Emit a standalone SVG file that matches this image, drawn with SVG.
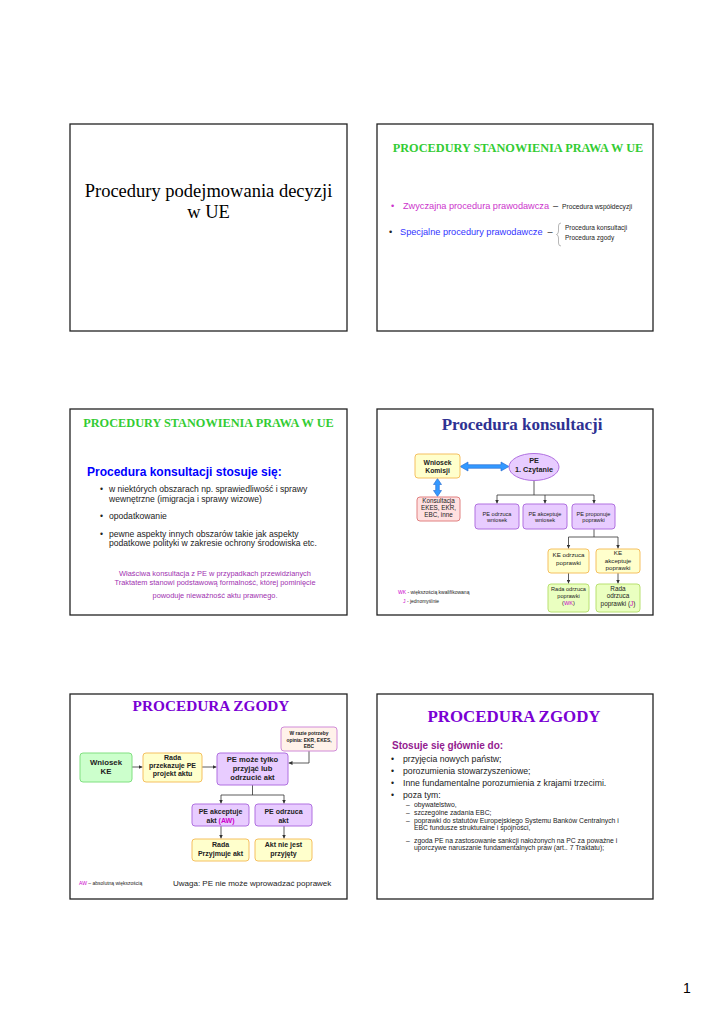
<svg xmlns="http://www.w3.org/2000/svg" width="724" height="1024" viewBox="0 0 724 1024">
<style>
.frame{fill:#fff;stroke:#222;stroke-width:1.3}
.sans{font-family:"Liberation Sans",Arial,sans-serif}
.serif{font-family:"Liberation Serif","Times New Roman",serif}
.green{fill:#33cc33;font-weight:bold;font-size:12.3px}
.c{text-anchor:middle}
.b{font-weight:bold}
.yel{fill:#ffffcc;stroke:#f5c060;stroke-width:1}
.lav{fill:#e8ccff;stroke:#b070e0;stroke-width:1}
.pink{fill:#ffe0e0;stroke:#e08080;stroke-width:1}
.grn{fill:#ccffcc;stroke:#80e080;stroke-width:1}
.lgr{fill:#eaffc0;stroke:#b8e070;stroke-width:1}
.peach{fill:#fff2ea;stroke:#d08ad8;stroke-width:1}
.conn{fill:none;stroke:#333;stroke-width:0.8}
.mag{fill:#cc00cc}
.blu{fill:#3399ff;stroke:#2266cc;stroke-width:0.6}
.dk{fill:#222}
</style>
<defs>
<marker id="ah" markerWidth="4" markerHeight="4" refX="4" refY="2" orient="auto" markerUnits="userSpaceOnUse"><path d="M0,0 L4,2 L0,4 z" fill="#333"/></marker>
</defs>
<rect x="0" y="0" width="724" height="1024" fill="#fff"/>

<!-- Slide 1 -->
<g id="slide1">
<rect class="frame" x="70" y="124" width="277" height="207"/>
<text class="serif c" x="208.5" y="197" font-size="18.5" fill="#000">Procedury podejmowania decyzji</text>
<text class="serif c" x="208.5" y="218" font-size="18.5" fill="#000">w UE</text>
</g>

<!-- Slide 2 -->
<g id="slide2">
<rect class="frame" x="377" y="124" width="276" height="207"/>
<text class="serif green c" x="518" y="152">PROCEDURY STANOWIENIA PRAWA W UE</text>
<text class="sans" x="391" y="209" font-size="9.2" fill="#cc33cc">•</text>
<text class="sans" x="403" y="209" font-size="9.2" fill="#cc33cc">Zwyczajna procedura prawodawcza</text>
<text class="sans" x="553" y="209" font-size="9.2" fill="#222">–</text>
<text class="sans" x="562" y="209" font-size="6.7" fill="#222">Procedura współdecyzji</text>
<text class="sans" x="389" y="235" font-size="9.2" fill="#222">•</text>
<text class="sans" x="400" y="235" font-size="9.2" fill="#3333ff">Specjalne procedury prawodawcze</text>
<text class="sans" x="547.5" y="235" font-size="9.2" fill="#222">–</text>
<path d="M561,223 Q558.5,223 558.5,226 L558.5,231 Q558.5,234 556.5,234.5 Q558.5,235 558.5,238 L558.5,243 Q558.5,246 561,246" fill="none" stroke="#888" stroke-width="0.6"/>
<text class="sans" x="565" y="230" font-size="6.5" fill="#222">Procedura konsultacji</text>
<text class="sans" x="565" y="240" font-size="6.5" fill="#222">Procedura zgody</text>
</g>

<!-- Slide 3 -->
<g id="slide3">
<rect class="frame" x="70" y="409" width="277" height="206"/>
<text class="serif green c" x="208.5" y="427">PROCEDURY STANOWIENIA PRAWA W UE</text>
<text class="sans b" x="87" y="476" font-size="12" fill="#0000ff">Procedura konsultacji stosuje się:</text>
<g class="sans" font-size="8.6" fill="#222">
<text x="100" y="492">•</text>
<text x="109" y="492">w niektórych obszarach np. sprawiedliwość i sprawy</text>
<text x="109" y="502">wewnętrzne (imigracja i sprawy wizowe)</text>
<text x="100" y="519">•</text>
<text x="109" y="519">opodatkowanie</text>
<text x="100" y="537">•</text>
<text x="109" y="537">pewne aspekty innych obszarów takie jak aspekty</text>
<text x="109" y="546">podatkowe polityki w zakresie ochrony środowiska etc.</text>
</g>
<g class="sans c" font-size="7.4" fill="#a030b0">
<text x="215" y="576">Właściwa konsultacja z PE w przypadkach przewidzianych</text>
<text x="215" y="585">Traktatem stanowi podstawową formalność, której pominięcie</text>
<text x="215" y="598">powoduje nieważność aktu prawnego.</text>
</g>
</g>

<!-- Slide 4 -->
<g id="slide4">
<rect class="frame" x="377" y="409" width="276" height="206"/>
<text class="serif b c" x="522" y="430" font-size="17" fill="#2e3192">Procedura konsultacji</text>
</g>

<g id="connectors-slide4">
<polygon class="blu" points="460,466.5 468,462 468,464.7 501,464.7 501,462 509,466.5 501,471 501,468.3 468,468.3 468,471"/>
<polygon class="blu" points="437.5,478.5 441.5,484.5 439.3,484.5 439.3,490.5 441.5,490.5 437.5,496.5 433.5,490.5 435.7,490.5 435.7,484.5 433.5,484.5"/>
<path class="conn" d="M534,480.5 V495 M497,495 H594"/>
<path class="conn" d="M497,495 V503.5" marker-end="url(#ah)"/>
<path class="conn" d="M545,495 V503.5" marker-end="url(#ah)"/>
<path class="conn" d="M594,495 V503.5" marker-end="url(#ah)"/>
<path class="conn" d="M594,529 V537 M568.5,537 H618"/>
<path class="conn" d="M568.5,537 V548.5" marker-end="url(#ah)"/>
<path class="conn" d="M618,537 V548.5" marker-end="url(#ah)"/>
<path class="conn" d="M568.5,573 V583.5" marker-end="url(#ah)"/>
<path class="conn" d="M618,573 V583.5" marker-end="url(#ah)"/>
</g>

<g id="n-wniosek-komisji">
<rect class="yel" x="415" y="454" width="45" height="24" rx="3"/>
<text class="sans b c" x="437.5" y="465" font-size="6.8" fill="#222">Wniosek</text>
<text class="sans b c" x="437.5" y="473" font-size="6.8" fill="#222">Komisji</text>
</g>
<g id="n-pe-czytanie">
<ellipse class="lav" cx="534" cy="467" rx="25" ry="13.5"/>
<text class="sans b c" x="534" y="463" font-size="7.3" fill="#222">PE</text>
<text class="sans b c" x="534" y="472" font-size="7.3" fill="#222">1. Czytanie</text>
</g>
<g id="n-konsultacja">
<rect class="pink" x="417" y="497" width="43" height="24" rx="3"/>
<text class="sans c" x="438.5" y="503" font-size="6.3" fill="#222">Konsultacja</text>
<text class="sans c" x="438.5" y="510" font-size="6.3" fill="#222">EKES, EKR,</text>
<text class="sans c" x="438.5" y="517" font-size="6.3" fill="#222">EBC, inne</text>
</g>
<g id="n-pe-odrzuca-wniosek">
<rect class="lav" x="475" y="504" width="44" height="25" rx="3"/>
<text class="sans c" x="497" y="516" font-size="5.6" fill="#222">PE odrzuca</text>
<text class="sans c" x="497" y="522" font-size="5.6" fill="#222">wniosek</text>
</g>
<g id="n-pe-akceptuje-wniosek">
<rect class="lav" x="523" y="504" width="44" height="25" rx="3"/>
<text class="sans c" x="545" y="516" font-size="5.6" fill="#222">PE akceptuje</text>
<text class="sans c" x="545" y="522" font-size="5.6" fill="#222">wniosek</text>
</g>
<g id="n-pe-proponuje">
<rect class="lav" x="572" y="504" width="43" height="25" rx="3"/>
<text class="sans c" x="593.5" y="516" font-size="5.6" fill="#222">PE proponuje</text>
<text class="sans c" x="593.5" y="522" font-size="5.6" fill="#222">poprawki</text>
</g>
<g id="n-ke-odrzuca">
<rect class="yel" x="548" y="549" width="41" height="24" rx="3"/>
<text class="sans c" x="568.5" y="557" font-size="6.2" fill="#222">KE odrzuca</text>
<text class="sans c" x="568.5" y="565" font-size="6.2" fill="#222">poprawki</text>
</g>
<g id="n-ke-akceptuje">
<rect class="yel" x="596" y="549" width="44" height="24" rx="3"/>
<text class="sans c" x="618" y="555" font-size="6.2" fill="#222">KE</text>
<text class="sans c" x="618" y="563" font-size="6.2" fill="#222">akceptuje</text>
<text class="sans c" x="618" y="570" font-size="6.2" fill="#222">poprawki</text>
</g>
<g id="n-rada-odrzuca-wk">
<rect class="lgr" x="548" y="584" width="41" height="28" rx="3"/>
<text class="sans c" x="568.5" y="591" font-size="5.6" fill="#222">Rada odrzuca</text>
<text class="sans c" x="568.5" y="598" font-size="5.6" fill="#222">poprawki</text>
<text class="sans c" x="568.5" y="605" font-size="5.6" fill="#222">(<tspan class="mag">WK</tspan>)</text>
</g>
<g id="n-rada-odrzuca-j">
<rect class="lgr" x="596" y="584" width="44" height="28" rx="3"/>
<text class="sans c" x="618" y="591" font-size="6.4" fill="#222">Rada</text>
<text class="sans c" x="618" y="598" font-size="6.4" fill="#222">odrzuca</text>
<text class="sans c" x="618" y="605.5" font-size="6.4" fill="#222">poprawki  (<tspan class="mag">J</tspan>)</text>
</g>
<g id="legend-slide4" class="sans" font-size="5" fill="#222">
<text x="398" y="594"><tspan class="mag">WK</tspan> - większością kwalifikowaną</text>
<text x="403" y="603"><tspan class="mag">J</tspan> - jednomyślnie</text>
</g>

<!-- Slide 5 -->
<g id="slide5">
<rect class="frame" x="70" y="694" width="277" height="205"/>
<text class="serif b c" x="211" y="711" font-size="15.3" fill="#7a00d4">PROCEDURA ZGODY</text>
</g>
<g id="connectors-slide5">
<path class="conn" d="M132,767 H142.5" marker-end="url(#ah)"/>
<path class="conn" d="M202,767 H216.5" marker-end="url(#ah)"/>
<path class="conn" d="M309,751 V763 H288.5" marker-end="url(#ah)"/>
<path class="conn" d="M252.5,785 V795 M221,795 H284"/>
<path class="conn" d="M221,795 V803.5" marker-end="url(#ah)"/>
<path class="conn" d="M284,795 V803.5" marker-end="url(#ah)"/>
<path class="conn" d="M221,826 V838.5" marker-end="url(#ah)"/>
<path class="conn" d="M284,826 V838.5" marker-end="url(#ah)"/>
</g>
<g id="n-w-razie">
<rect class="peach" x="281" y="727" width="56" height="24" rx="3"/>
<text class="sans b c" x="309" y="735" font-size="4.9" fill="#222">W razie potrzeby</text>
<text class="sans b c" x="309" y="742" font-size="4.9" fill="#222">opinia: EKR, EKES,</text>
<text class="sans b c" x="309" y="748" font-size="4.9" fill="#222">EBC</text>
</g>
<g id="n-wniosek-ke">
<rect class="grn" x="80" y="753" width="52" height="29" rx="3"/>
<text class="sans b c" x="106" y="765" font-size="7.8" fill="#222">Wniosek</text>
<text class="sans b c" x="106" y="774" font-size="7.8" fill="#222">KE</text>
</g>
<g id="n-rada-przekazuje">
<rect class="yel" x="143" y="753" width="59" height="29" rx="3"/>
<text class="sans b c" x="172.5" y="760" font-size="7" fill="#222">Rada</text>
<text class="sans b c" x="172.5" y="768" font-size="7" fill="#222">przekazuje PE</text>
<text class="sans b c" x="172.5" y="776" font-size="7" fill="#222">projekt aktu</text>
</g>
<g id="n-pe-moze">
<rect class="lav" x="217" y="753" width="71" height="32" rx="3"/>
<text class="sans b c" x="252.5" y="762" font-size="7.6" fill="#222">PE może tylko</text>
<text class="sans b c" x="252.5" y="771" font-size="7.6" fill="#222">przyjąć lub</text>
<text class="sans b c" x="252.5" y="780" font-size="7.6" fill="#222">odrzucić akt</text>
</g>
<g id="n-pe-akceptuje-akt">
<rect class="lav" x="192" y="804" width="57" height="22" rx="3"/>
<text class="sans b c" x="220.5" y="814" font-size="7" fill="#222">PE akceptuje</text>
<text class="sans b c" x="220.5" y="823" font-size="7" fill="#222">akt <tspan class="mag">(AW)</tspan></text>
</g>
<g id="n-pe-odrzuca-akt">
<rect class="lav" x="255" y="804" width="57" height="22" rx="3"/>
<text class="sans b c" x="283.5" y="814" font-size="7" fill="#222">PE odrzuca</text>
<text class="sans b c" x="283.5" y="823" font-size="7" fill="#222">akt</text>
</g>
<g id="n-rada-przyjmuje">
<rect class="yel" x="192" y="839" width="57" height="22" rx="3"/>
<text class="sans b c" x="220.5" y="847" font-size="7" fill="#222">Rada</text>
<text class="sans b c" x="220.5" y="856" font-size="7" fill="#222">Przyjmuje akt</text>
</g>
<g id="n-akt-nie-jest">
<rect class="yel" x="255" y="839" width="57" height="22" rx="3"/>
<text class="sans b c" x="283.5" y="847" font-size="7" fill="#222">Akt nie jest</text>
<text class="sans b c" x="283.5" y="856" font-size="7" fill="#222">przyjęty</text>
</g>
<g id="notes-slide5" class="sans" fill="#222">
<text x="79" y="885" font-size="5"><tspan class="mag">AW</tspan> – absolutną większością</text>
<text x="173" y="886" font-size="8">Uwaga: PE nie może wprowadzać poprawek</text>
</g>

<!-- Slide 6 -->
<g id="slide6">
<rect class="frame" x="377" y="694" width="276" height="205"/>
<text class="serif b c" x="514" y="722" font-size="16.9" fill="#7a00d4">PROCEDURA ZGODY</text>
<text class="sans b" x="392" y="749" font-size="10" fill="#93208f">Stosuje się głównie do:</text>
<g class="sans" font-size="8.7" fill="#222">
<text x="391" y="762">•</text><text x="403" y="762">przyjęcia nowych państw;</text>
<text x="391" y="774">•</text><text x="403" y="774">porozumienia stowarzyszeniowe;</text>
<text x="391" y="786">•</text><text x="403" y="786">Inne fundamentalne porozumienia z krajami trzecimi.</text>
<text x="391" y="798">•</text><text x="403" y="798">poza tym:</text>
</g>
<g class="sans" font-size="6.8" fill="#222">
<text x="406" y="807">–</text><text x="414" y="807">obywatelstwo,</text>
<text x="406" y="815">–</text><text x="414" y="815">szczególne zadania EBC;</text>
<text x="406" y="823">–</text><text x="414" y="823">poprawki do statutów Europejskiego Systemu Banków Centralnych i</text>
<text x="414" y="829.5">EBC fundusze strukturalne i spójności,</text>
<text x="406" y="843">–</text><text x="414" y="843">zgoda PE na zastosowanie sankcji nałożonych na PC za poważne i</text>
<text x="414" y="849.5">uporczywe naruszanie fundamentalnych praw (art.. 7 Traktatu);</text>
</g>
</g>

<text id="page-number" class="sans" x="683" y="993" font-size="14" fill="#000">1</text>
</svg>
